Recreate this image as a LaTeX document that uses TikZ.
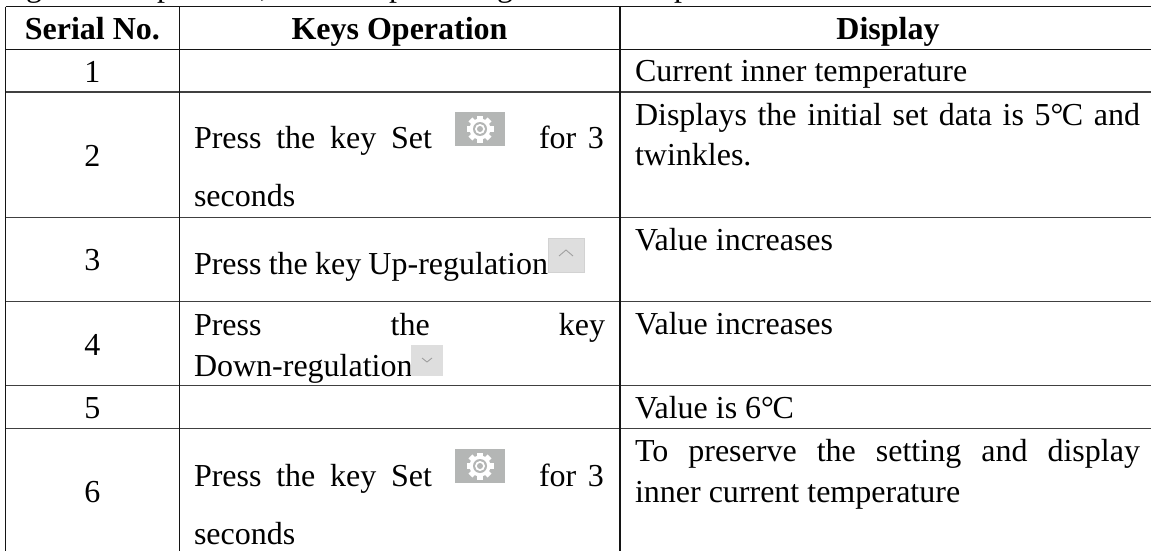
\documentclass[tikz,border=0pt]{standalone}
\usepackage{fontspec}
\setmainfont{Liberation Serif}
\definecolor{rule}{HTML}{404040}
\definecolor{rulestrong}{HTML}{141414}
\definecolor{geargray}{HTML}{B4B6B5}
\definecolor{keygray}{HTML}{DEDEDE}
\definecolor{keyedge}{HTML}{D2D2D2}
\definecolor{chevgray}{HTML}{A0A0A0}
\tikzset{
  txt/.style={anchor=base west,inner sep=0pt,outer sep=0pt,font=\fontsize{32}{40}\selectfont,text=black},
  mid/.style={anchor=base,inner sep=0pt,outer sep=0pt,font=\fontsize{32}{40}\selectfont,text=black},
  head/.style={mid,font=\fontsize{32}{40}\selectfont\bfseries},
  tablerule/.style={draw=rule,line width=1.2pt},
  strongrule/.style={draw=rulestrong,line width=1.2pt},
  keybox/.style={fill=keygray,draw=keyedge,line width=0.8pt},
  chevron/.style={draw=chevgray,line width=0.9pt}
}
\newcommand{\geargly}[2]{%
  \fill[geargray] (#1-25,#2-17) rectangle (#1+25,#2+17);
  \foreach \a in {0,45,...,315}{
    \fill[white,rotate around={\a:(#1,#2)}] (#1-2.8,#2-13.5) rectangle (#1+2.8,#2);
  }
  \fill[white] (#1,#2) circle (10.5);
  \fill[geargray] (#1,#2) circle (7);
  \fill[white] (#1,#2) circle (5);
  \fill[geargray] (#1,#2) circle (3);
}
\newcommand{\degC}{°\kern-1.5ptC}
\begin{document}
\begin{tikzpicture}[x=1pt,y=-1pt]
\useasboundingbox (0,0) rectangle (1151,551);
\fill[white] (0,0) rectangle (1151,551);
\begin{scope}
\clip (0,0) rectangle (1151,551);
\node[txt] (t1) at (26,-3.5) {g};
\node[txt] (t2) at (157,-3.5) {p};
\node[txt] (t3) at (260,-3.5) {,};
\node[txt] (t4) at (389,-3.5) {p};
\node[txt] (t5) at (497,-3.5) {g};
\node[txt] (t6) at (674,-3.5) {p};
\end{scope}
% table rules
\foreach \yy in {92,217.3,301.7,385.5,428.7}{
  \draw[tablerule] (5.5,\yy) -- (1151,\yy);
}
\foreach \yy in {6.7,49.5}{
  \draw[strongrule] (5.5,\yy) -- (1151,\yy);
}
\foreach \xx in {5.5,179.3,620}{
  \draw[strongrule] (\xx,6.7) -- (\xx,551);
}
% header
\node[head] (h1) at (92.4,39.5) {Serial No.};
\node[head] (h2) at (399.5,39.5) {Keys Operation};
\node[head] (h3) at (888,39.5) {Display};
% serial numbers
\node[mid] (n1) at (92.4,82) {1};
\node[mid] (n2) at (92.4,166) {2};
\node[mid] (n3) at (92.4,270.7) {3};
\node[mid] (n4) at (92.4,355) {4};
\node[mid] (n5) at (92.4,418) {5};
\node[mid] (n6) at (92.4,502.7) {6};
% keys operation
\node[txt] (k2a) at (194,148) {\makebox[238pt][s]{Press the key Set}};
\node[txt] (k2b) at (539,148) {\makebox[65pt][s]{for 3}};
\node[txt] (k2c) at (194,206) {seconds};
\geargly{480}{129}
\node[txt] (k3) at (194,274) {\makebox[354pt][s]{Press the key Up-regulation}};
\filldraw[keybox] (548,238) rectangle (584,272);
\draw[chevron] (559,256) -- (566,250) -- (573,256);
\node[txt] (k4a) at (194,335) {\makebox[411pt][s]{Press the key}};
\node[txt] (k4b) at (194,376.7) {Down-regulation};
\fill[keygray] (411,345) rectangle (443,375.7);
\draw[chevron] (422,358) -- (427,362) -- (432,358);
\node[txt] (k6a) at (194,486) {\makebox[238pt][s]{Press the key Set}};
\node[txt] (k6b) at (539,486) {\makebox[65pt][s]{for 3}};
\node[txt] (k6c) at (194,544) {seconds};
\geargly{480}{466}
% display
\node[txt] (d1) at (635,81.5) {Current inner temperature};
\node[txt] (d2a) at (635,125) {\makebox[505pt][s]{Displays the initial set data is 5\degC{} and}};
\node[txt] (d2b) at (635,165.7) {twinkles.};
\node[txt] (d3) at (635,250.7) {Value increases};
\node[txt] (d4) at (635,334) {Value increases};
\node[txt] (d5) at (635,418.7) {Value is 6\degC};
\node[txt] (d6a) at (635,461.7) {\makebox[505pt][s]{To preserve the setting and display}};
\node[txt] (d6b) at (635,502.7) {inner current temperature};
\end{tikzpicture}
\end{document}
